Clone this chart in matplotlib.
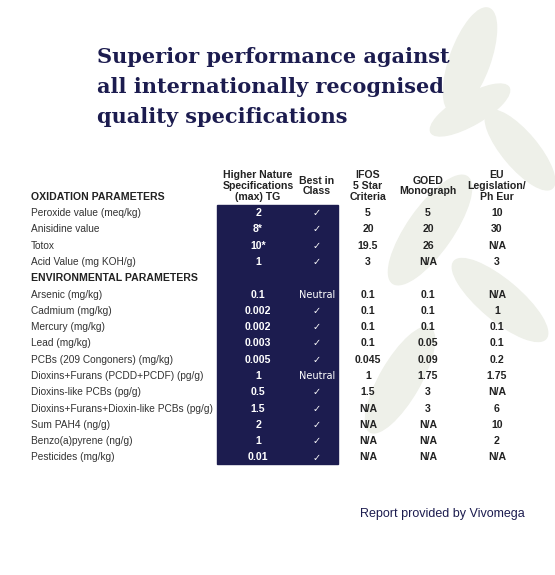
import matplotlib.pyplot as plt
from matplotlib.patches import Rectangle, Ellipse

NAVY = "#1c1c4f"
plt.rcParams["font.family"] = ["Liberation Sans", "DejaVu Sans"]

title_lines = ["Superior performance against",
               "all internationally recognised",
               "quality specifications"]
col_headers = ["Higher Nature\nSpecifications\n(max) TG", "Best in\nClass",
               "IFOS\n5 Star\nCriteria", "GOED\nMonograph", "EU\nLegislation/\nPh Eur"]
sections = ["OXIDATION PARAMETERS", "ENVIRONMENTAL PARAMETERS"]
ox_labels = ["Peroxide value (meq/kg)", "Anisidine value", "Totox", "Acid Value (mg KOH/g)"]
ox_hn = ["2", "8*", "10*", "1"]
ox_best = ["✓", "✓", "✓", "✓"]
ox_ifos = ["5", "20", "19.5", "3"]
ox_goed = ["5", "20", "26", "N/A"]
ox_eu = ["10", "30", "N/A", "3"]
env_labels = ["Arsenic (mg/kg)", "Cadmium (mg/kg)", "Mercury (mg/kg)", "Lead (mg/kg)",
              "PCBs (209 Congoners) (mg/kg)", "Dioxins+Furans (PCDD+PCDF) (pg/g)",
              "Dioxins-like PCBs (pg/g)", "Dioxins+Furans+Dioxin-like PCBs (pg/g)",
              "Sum PAH4 (ng/g)", "Benzo(a)pyrene (ng/g)", "Pesticides (mg/kg)"]
env_hn = ["0.1", "0.002", "0.002", "0.003", "0.005", "1", "0.5", "1.5", "2", "1", "0.01"]
env_best = ["Neutral", "✓", "✓", "✓", "✓", "Neutral", "✓", "✓", "✓", "✓", "✓"]
env_ifos = ["0.1", "0.1", "0.1", "0.1", "0.045", "1", "1.5", "N/A", "N/A", "N/A", "N/A"]
env_goed = ["0.1", "0.1", "0.1", "0.05", "0.09", "1.75", "3", "3", "N/A", "N/A", "N/A"]
env_eu = ["N/A", "1", "0.1", "0.1", "0.2", "1.75", "N/A", "6", "10", "2", "N/A"]

fig = plt.figure(figsize=(5.55, 5.75), dpi=100)
ax = fig.add_axes([0, 0, 1, 1])
ax.set_xlim(0, 555)
ax.set_ylim(575, 0)
ax.axis("off")

# faint leaf decoration
for (lx, ly, w, h, ang) in [(470, 60, 40, 110, 20), (520, 150, 35, 100, -40),
                            (430, 230, 45, 130, 35), (500, 300, 40, 120, -50),
                            (400, 380, 40, 120, 30), (470, 110, 30, 90, 60)]:
    ax.add_patch(Ellipse((lx, ly), w, h, angle=ang, color="#eef0e9", zorder=0))

for i, line in enumerate(title_lines):
    ax.text(97, 57 + i * 30, line, fontsize=15, fontweight="bold", family="DejaVu Serif",
            color=NAVY, va="center", ha="left")

col_x = [258, 317, 368, 428, 497]
label_x = 31
row_h = 16.3
y0 = 213
fs = 7.6

ax.add_patch(Rectangle((217, 205), 121, 259, color=NAVY, zorder=1))

for cx, h in zip(col_x, col_headers):
    ax.text(cx, 186, h, fontsize=fs, fontweight="bold", color="#222222",
            ha="center", va="center", linespacing=1.1)

ax.text(label_x, 197, sections[0], fontsize=fs, fontweight="bold", color="#222222", va="center")


def draw_rows(labels, hn, best, ifos, goed, eu, start):
    for k in range(len(labels)):
        y = start + k * row_h
        ax.text(label_x, y, labels[k], fontsize=7.3, color="#333333", va="center")
        ax.text(col_x[0], y, hn[k], fontsize=fs, fontweight="bold", color="white",
                ha="center", va="center", zorder=2)
        ax.text(col_x[1], y, best[k], fontsize=7, color="white",
                family=["DejaVu Sans"], ha="center", va="center", zorder=2)
        for cx, vals in zip(col_x[2:], (ifos, goed, eu)):
            ax.text(cx, y, vals[k], fontsize=fs, fontweight="bold", color="#222222",
                    ha="center", va="center")


draw_rows(ox_labels, ox_hn, ox_best, ox_ifos, ox_goed, ox_eu, y0)
ax.text(label_x, y0 + 4 * row_h, sections[1], fontsize=fs, fontweight="bold",
        color="#222222", va="center")
draw_rows(env_labels, env_hn, env_best, env_ifos, env_goed, env_eu, y0 + 5 * row_h)

ax.text(525, 514, "Report provided by Vivomega", fontsize=9, color=NAVY,
        ha="right", va="center")

fig.savefig("out.png", dpi=100)
